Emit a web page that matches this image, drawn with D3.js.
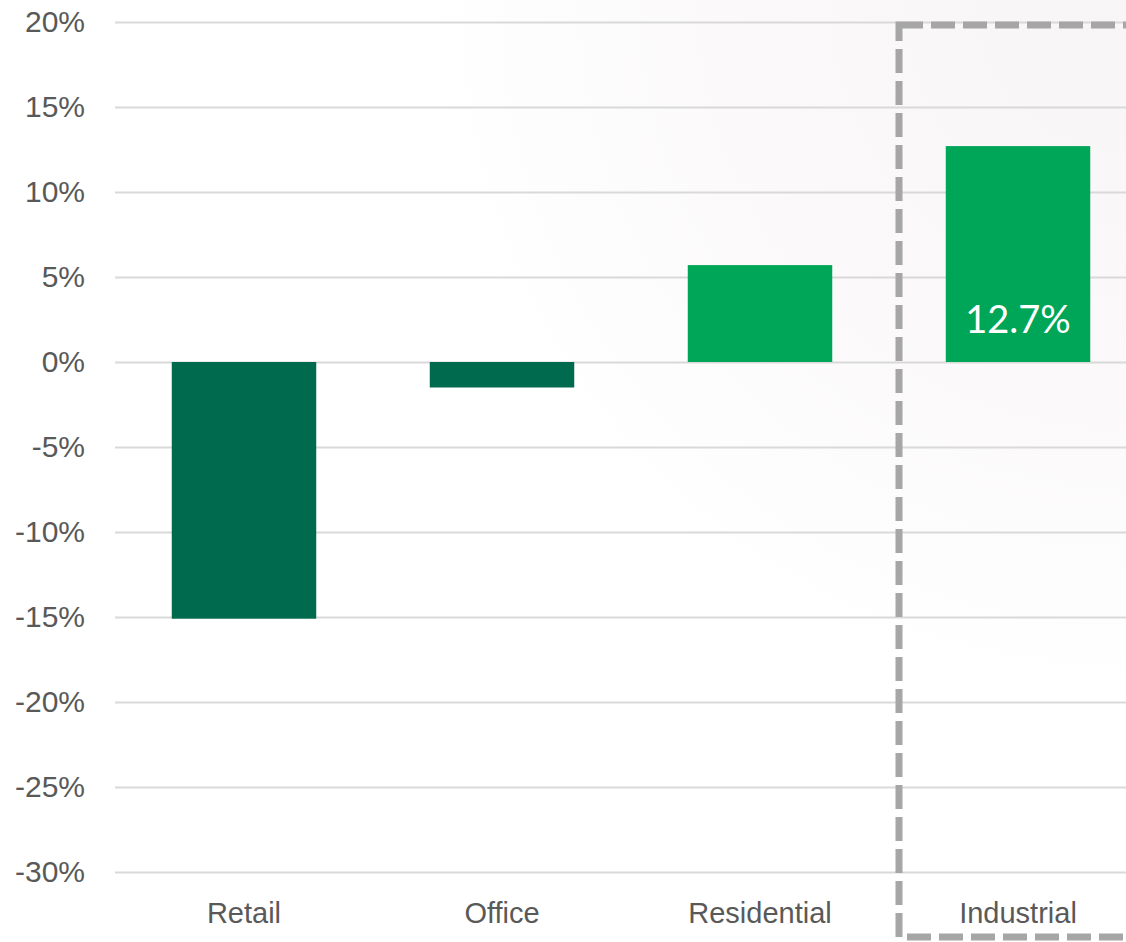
<!DOCTYPE html>
<html>
<head>
<meta charset="utf-8">
<script src="https://cdn.jsdelivr.net/npm/d3@7"></script>
<style>
  body { margin: 0; background: #fff; }
  svg { display: block; font-family: Lato, "Open Sans", sans-serif; }
</style>
</head>
<body>
<div id="chart"></div>
<script>
const categories = ['Retail', 'Office', 'Residential', 'Industrial'];
const values = [-15.1, -1.5, 5.7, 12.7];
const yTicks = [20, 15, 10, 5, 0, -5, -10, -15, -20, -25, -30];
const highlighted = 'Industrial';

const width = 1126;
const height = 942;

const svg = d3.select('#chart')
	.append('svg')
	.attr('width', width)
	.attr('height', height);

// faint background wash in the top right corner
const defs = svg.append('defs');
const grad = defs.append('radialGradient')
	.attr('id', 'wash')
	.attr('gradientUnits', 'userSpaceOnUse')
	.attr('cx', 1126).attr('cy', 0).attr('r', 700);
grad.append('stop').attr('offset', '0%').attr('stop-color', '#f8f5f6');
grad.append('stop').attr('offset', '55%').attr('stop-color', '#fbf9fa');
grad.append('stop').attr('offset', '100%').attr('stop-color', '#ffffff');
svg.append('rect')
	.attr('width', width).attr('height', height)
	.attr('fill', 'url(#wash)');

const x = d3.scaleBand()
	.domain(categories)
	.range([115, 1147])
	.paddingInner(0.44)
	.paddingOuter(0.22);

const y = d3.scaleLinear()
	.domain([-30, 20])
	.range([872, 22]);

// gridlines + tick labels
const yAxis = d3.axisLeft(y)
	.tickValues(yTicks)
	.tickSize(-(width - 115 + 40))
	.tickPadding(30)
	.tickFormat(d => `${d}%`);

const gy = svg.append('g')
	.attr('transform', 'translate(115,0)')
	.call(yAxis);
gy.select('.domain').remove();
gy.selectAll('.tick line')
	.attr('stroke', '#d9d9d9')
	.attr('stroke-width', 2);
gy.selectAll('.tick text')
	.attr('fill', '#595959')
	.attr('font-size', '30px')
	.attr('x', -30);

// bars
svg.append('g')
	.selectAll('rect')
	.data(categories)
	.enter().append('rect')
	.attr('x', d => x(d))
	.attr('width', x.bandwidth())
	.attr('y', (d, i) => y(Math.max(0, values[i])))
	.attr('height', (d, i) => Math.abs(y(values[i]) - y(0)))
	.attr('fill', (d, i) => values[i] < 0 ? '#006a4e' : '#00a657');

// value label on the highlighted bar
const hi = categories.indexOf(highlighted);
svg.append('text')
	.attr('x', x(highlighted) + x.bandwidth() / 2)
	.attr('y', y(0) - 29)
	.attr('text-anchor', 'middle')
	.attr('fill', '#fff')
	.attr('font-size', '38px')
	.text(`${values[hi]}%`);

// category labels
const xAxis = d3.axisBottom(x).tickSize(0).tickPadding(0);
const gx = svg.append('g')
	.attr('transform', 'translate(0,872)')
	.call(xAxis);
gx.select('.domain').remove();
gx.selectAll('.tick text')
	.attr('fill', '#595959')
	.attr('font-size', '29px')
	.attr('dy', null)
	.attr('y', 51);

// dashed highlight box
svg.append('rect')
	.attr('x', 899)
	.attr('y', 25)
	.attr('width', 232)
	.attr('height', 912)
	.attr('fill', 'none')
	.attr('stroke', '#a6a6a6')
	.attr('stroke-width', 7)
	.attr('stroke-dasharray', '24,8');
</script>
</body>
</html>
